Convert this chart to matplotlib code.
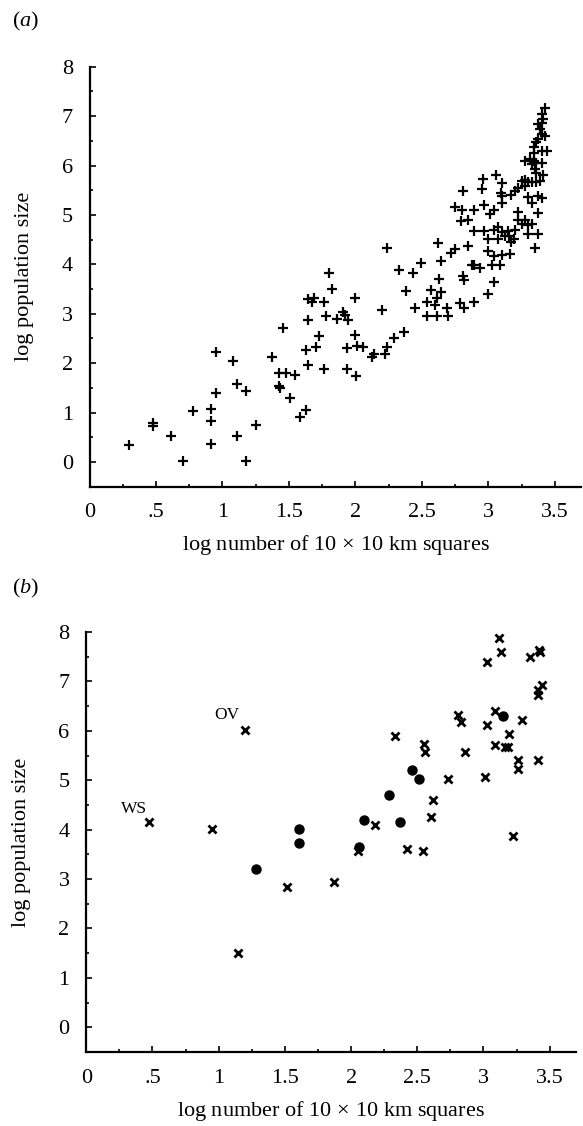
import matplotlib
matplotlib.use("Agg")
import matplotlib.pyplot as plt
from matplotlib.ticker import MultipleLocator, FixedLocator, FixedFormatter

plt.rcParams["font.family"] = ["Liberation Serif", "DejaVu Serif"]
plt.rcParams["mathtext.fontset"] = "custom"
plt.rcParams["mathtext.rm"] = "Liberation Serif"
plt.rcParams["mathtext.it"] = "Liberation Serif:italic"

# ---------------- data ----------------
# panel (a): all species, '+' markers
a_x = [0.30, 0.48, 0.48, 0.61, 0.70, 0.78, 0.91, 0.91, 0.91, 0.955, 0.955,
       1.08, 1.11, 1.11, 1.175, 1.175, 1.255, 1.375, 1.425, 1.48, 1.545,
       1.425, 1.43, 1.505, 1.455, 1.58, 1.625, 1.625, 1.645, 1.64, 1.645,
       1.69, 1.675, 1.76, 1.70, 1.725, 1.775, 1.76, 1.80, 1.82, 1.86,
       1.91, 1.925, 1.945, 1.995, 1.995, 1.94, 2.01, 2.06, 1.94, 2.005,
       2.125, 2.14, 2.225, 2.24, 2.29, 2.365, 2.20, 2.24, 2.33, 2.43,
       2.49, 2.38, 2.45, 2.54, 2.60, 2.61, 2.64, 2.57, 2.54, 2.61,
       2.695, 2.69, 2.63, 2.645, 2.62, 2.72, 2.75, 2.845, 2.81, 2.82,
       2.79, 2.82, 2.89, 2.875, 2.89, 2.94, 3.00, 3.045, 3.025, 3.09,
       3.00, 3.045, 3.10, 3.16, 3.00, 3.07, 3.125, 3.105, 3.155, 3.17,
       3.19, 3.04, 3.07, 3.15, 3.20, 2.89, 2.97, 2.795, 2.85, 2.745,
       2.80, 2.89, 2.97, 3.01, 3.045, 3.10, 2.81, 2.95, 2.96, 3.055,
       3.105, 3.095, 3.105, 3.17, 3.20, 3.225, 3.25, 3.275, 3.30, 3.33,
       3.36, 3.39, 3.275, 3.41, 3.225, 3.22, 3.275, 3.25, 3.30, 3.33,
       3.30, 3.37, 3.35, 3.375, 3.30, 3.325, 3.375, 3.40, 3.275, 3.31,
       3.34, 3.36, 3.40, 3.33, 3.35, 3.36, 3.40, 3.44, 3.34, 3.36,
       3.375, 3.40, 3.425, 3.39, 3.40, 3.375, 3.41, 3.40, 3.425, 3.34]
a_y = [0.35, 0.79, 0.72, 0.53, 0.02, 1.03, 1.08, 0.83, 0.36, 2.22, 1.40,
       2.05, 1.57, 0.53, 1.43, 0.02, 0.74, 2.12, 1.80, 1.80, 1.77,
       1.53, 1.50, 1.30, 2.71, 0.91, 1.06, 2.27, 1.96, 2.87, 3.30,
       3.31, 3.24, 3.24, 2.32, 2.54, 2.95, 1.89, 3.83, 3.51, 2.89,
       3.03, 2.98, 2.87, 3.31, 2.57, 2.30, 2.34, 2.32, 1.89, 1.75,
       2.13, 2.18, 2.18, 2.33, 2.50, 2.64, 3.07, 4.34, 3.88, 3.82,
       4.03, 3.47, 3.11, 3.24, 3.17, 3.31, 3.45, 3.48, 2.95, 2.95,
       2.95, 3.12, 3.71, 4.06, 4.44, 4.22, 4.32, 4.37, 3.76, 3.68,
       3.21, 3.12, 3.23, 3.98, 3.99, 3.92, 3.39, 3.65, 3.98, 3.98,
       4.28, 4.17, 4.18, 4.20, 4.52, 4.52, 4.57, 4.66, 4.57, 4.46,
       4.52, 4.70, 4.76, 4.67, 4.70, 4.67, 4.67, 4.87, 4.90, 5.16,
       5.10, 5.09, 5.20, 5.02, 5.09, 5.24, 5.49, 5.52, 5.72, 5.80,
       5.64, 5.44, 5.39, 5.40, 5.49, 5.54, 5.69, 5.59, 5.66, 5.67,
       5.66, 5.69, 5.71, 5.80, 5.05, 4.89, 4.89, 4.82, 4.80, 4.82,
       4.62, 4.62, 4.34, 5.03, 5.36, 5.24, 5.39, 5.34, 6.09, 6.13,
       6.09, 6.06, 6.06, 6.03, 5.93, 5.85, 6.29, 6.29, 6.37, 6.47,
       6.53, 6.63, 6.60, 6.74, 6.87, 6.84, 6.94, 7.04, 7.17, 6.26]

# panel (b): crosses
b_cross_x = [0.474, 1.20, 0.95, 1.15, 1.52, 1.87, 2.05, 2.18, 2.42, 2.54,
             2.33, 2.55, 2.56, 2.615, 2.60, 2.73, 2.81, 2.83, 2.86, 3.015,
             3.03, 3.115, 3.13, 3.09, 3.03, 3.19, 3.09, 3.16, 3.185, 3.22,
             3.26, 3.26, 3.29, 3.35, 3.42, 3.43, 3.44, 3.41, 3.41, 3.41]
b_cross_y = [4.15, 6.02, 4.01, 1.51, 2.83, 2.94, 3.56, 4.09, 3.60, 3.56,
             5.90, 5.73, 5.57, 4.61, 4.26, 5.02, 6.32, 6.18, 5.57, 5.06,
             7.39, 7.87, 7.59, 6.41, 6.11, 5.93, 5.72, 5.68, 5.68, 3.88,
             5.41, 5.23, 6.21, 7.49, 7.64, 7.60, 6.93, 6.83, 6.73, 5.40]
# panel (b): filled dots
b_dot_x = [1.28, 1.61, 1.61, 2.06, 2.10, 2.29, 2.37, 2.46, 2.51, 3.15]
b_dot_y = [3.21, 4.02, 3.73, 3.65, 4.20, 4.71, 4.15, 5.20, 5.02, 6.31]

b_names = ["WS", "OV"]
b_name_x = [0.36, 1.06]
b_name_y = [4.42, 6.32]

x_tick_vals = [0, 0.5, 1, 1.5, 2, 2.5, 3, 3.5]
x_tick_labels = ["0", ".5", "1", "1.5", "2", "2.5", "3", "3.5"]

FS = 16


def style_axes(ax):
    ax.set_xlim(0, 3.7)
    ax.set_ylim(-0.5, 8)
    for s in ["top", "right"]:
        ax.spines[s].set_visible(False)
    for s in ["left", "bottom"]:
        ax.spines[s].set_linewidth(1.6)
    ax.xaxis.set_major_locator(FixedLocator(x_tick_vals))
    ax.xaxis.set_major_formatter(FixedFormatter(x_tick_labels))
    ax.xaxis.set_minor_locator(MultipleLocator(0.25))
    ax.yaxis.set_major_locator(MultipleLocator(1))
    ax.yaxis.set_minor_locator(MultipleLocator(0.5))
    ax.tick_params(which="both", direction="in", width=1.2, labelsize=FS,
                   top=False, right=False)
    ax.tick_params(which="major", length=4)
    ax.tick_params(which="minor", length=2)
    ax.tick_params(axis="x", which="major", pad=12)
    ax.tick_params(axis="y", which="major", pad=12)
    ax.set_ylabel("log population size", fontsize=FS, labelpad=20)
    ax.set_xlabel(r"log number of 10$\,\times\,$10 km squares", fontsize=FS,
                  labelpad=8)


W, H = 583, 1126
fig = plt.figure(figsize=(W / 100, H / 100), dpi=100)

ax1 = fig.add_axes([89.5 / W, 1 - 486.7 / H, 492 / W, 420 / H])
ax2 = fig.add_axes([86.2 / W, 1 - 1052 / H, 490 / W, 420 / H])

ax1.plot(a_x, a_y, linestyle="none", marker="+", color="black",
         markersize=7.5, markeredgewidth=1.6, clip_on=False)
style_axes(ax1)

ax2.plot(b_cross_x, b_cross_y, linestyle="none", marker="x", color="black",
         markersize=6, markeredgewidth=2.0, clip_on=False)
ax2.plot(b_dot_x, b_dot_y, linestyle="none", marker="o", color="black",
         markersize=6.5, clip_on=False)
for name, nx, ny in zip(b_names, b_name_x, b_name_y):
    ax2.text(nx, ny, name, fontsize=12.5, ha="center", va="center")
style_axes(ax2)

fig.text(12 / W, 1 - 21 / H, r"($\mathit{a}$)", fontsize=FS, va="center")
fig.text(12 / W, 1 - 588 / H, r"($\mathit{b}$)", fontsize=FS, va="center")

fig.savefig("out.png", dpi=100)
